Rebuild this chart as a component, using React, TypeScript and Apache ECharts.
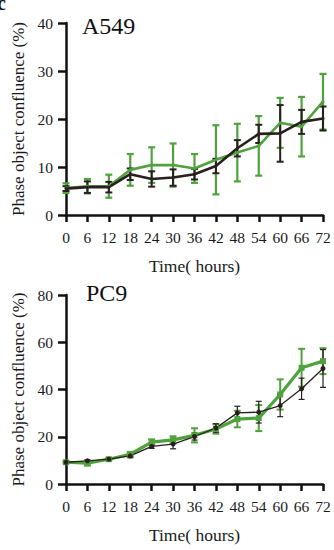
import React, { useEffect, useRef } from "react";
import * as echarts from "echarts";

const hours = [0, 6, 12, 18, 24, 30, 36, 42, 48, 54, 60, 66, 72];
const xTicks = hours;

const a549Green = [5.6, 6.0, 6.0, 9.4, 10.4, 10.4, 9.7, 11.5, 13.0, 14.4, 19.2, 18.4, 23.6];
const a549GreenErr = [1.0, 1.5, 2.4, 3.3, 3.7, 4.5, 3.0, 7.2, 6.0, 6.2, 5.2, 6.2, 5.8];
const a549Black = [5.5, 5.8, 5.8, 8.5, 7.5, 7.8, 8.5, 10.2, 13.9, 16.9, 17.0, 19.4, 20.1];
const a549BlackErr = [0.5, 1.2, 1.1, 1.2, 1.6, 1.7, 1.1, 1.5, 1.7, 1.9, 5.9, 2.5, 2.5];

const pc9Green = [9.2, 8.8, 10.5, 12.6, 17.7, 18.7, 20.6, 23.3, 27.5, 27.9, 37.9, 49.2, 52.0];
const pc9GreenErr = [0.5, 1.0, 0.5, 1.0, 1.2, 1.5, 3.0, 2.0, 3.5, 5.5, 6.4, 8.0, 5.5];
const pc9Black = [9.2, 9.8, 10.5, 11.9, 15.9, 16.9, 20.1, 23.7, 30.1, 30.4, 33.2, 40.3, 48.9];
const pc9BlackErr = [0.3, 0.5, 0.4, 0.8, 0.8, 2.0, 1.5, 1.8, 2.8, 4.6, 4.7, 4.5, 8.0];

const GREEN = "#4fa23e";
const BLACK = "#2a1f1f";
const FONT = "'Liberation Serif', serif";

function errSeries(idx: number, vals: number[], errs: number[], color: string, width: number, cap: number) {
  return {
    type: "custom",
    xAxisIndex: idx,
    yAxisIndex: idx,
    silent: true,
    data: hours.map((h, i) => [h, vals[i], errs[i]]),
    encode: { x: 0, y: [1] },
    renderItem: (params: any, api: any) => {
      const x = api.value(0);
      const y = api.value(1);
      const e = api.value(2);
      const top = api.coord([x, y + e]);
      const bot = api.coord([x, y - e]);
      const style = { stroke: color, lineWidth: width };
      return {
        type: "group",
        children: [
          { type: "line", shape: { x1: top[0], y1: top[1], x2: bot[0], y2: bot[1] }, style },
          { type: "line", shape: { x1: top[0] - cap, y1: top[1], x2: top[0] + cap, y2: top[1] }, style },
          { type: "line", shape: { x1: bot[0] - cap, y1: bot[1], x2: bot[0] + cap, y2: bot[1] }, style },
        ],
      };
    },
  };
}

function lineSeries(idx: number, vals: number[], color: string, width: number, symbol: string, size: number) {
  return {
    type: "line",
    xAxisIndex: idx,
    yAxisIndex: idx,
    data: hours.map((h, i) => [h, vals[i]]),
    symbol,
    symbolSize: size,
    showSymbol: true,
    itemStyle: { color },
    lineStyle: { color, width },
  };
}

function xAxis(idx: number) {
  return {
    type: "value",
    gridIndex: idx,
    min: 0,
    max: 72,
    interval: 6,
    name: "Time( hours)",
    nameLocation: "middle",
    nameGap: 42,
    nameTextStyle: { fontFamily: FONT, fontSize: 17.5, color: "#1a1a1a" },
    axisLine: { show: true, onZero: false, lineStyle: { color: "#111", width: 2.5 } },
    axisTick: { show: true, length: 7, lineStyle: { color: "#111", width: 2.5 } },
    axisLabel: {
      fontFamily: FONT,
      fontSize: 15.5,
      color: "#1a1a1a",
      margin: 14,
      formatter: (v: number) => (xTicks.includes(v) ? String(v) : ""),
    },
    splitLine: { show: false },
  };
}

function yAxis(idx: number, max: number, interval: number) {
  return {
    type: "value",
    gridIndex: idx,
    min: 0,
    max,
    interval,
    name: "Phase object confluence (%)",
    nameLocation: "middle",
    nameGap: 38,
    nameTextStyle: { fontFamily: FONT, fontSize: 17, color: "#1a1a1a" },
    axisLine: { show: true, lineStyle: { color: "#111", width: 2.5 } },
    axisTick: { show: true, length: 8, lineStyle: { color: "#111", width: 2.5 } },
    axisLabel: { fontFamily: FONT, fontSize: 15.5, color: "#1a1a1a", margin: 13 },
    splitLine: { show: false },
  };
}

export default function App() {
  const ref = useRef<HTMLDivElement>(null);
  useEffect(() => {
    const chart = echarts.init(ref.current!, undefined, { renderer: "svg" });
    chart.setOption({
      animation: false,
      backgroundColor: "#ffffff",
      textStyle: { fontFamily: FONT },
      grid: [
        { left: 66, right: 11, top: 23, bottom: 335 },
        { left: 66, right: 11, top: 295, bottom: 66 },
      ],
      title: [
        { text: "A549", left: 77, top: 9, textStyle: { fontFamily: FONT, fontSize: 24, fontWeight: "normal", color: "#111" } },
        { text: "PC9", left: 81, top: 276, textStyle: { fontFamily: FONT, fontSize: 24, fontWeight: "normal", color: "#111" } },
      ],
      graphic: [
        { type: "text", left: -3, top: -7, style: { text: "c", font: "bold 20px " + FONT, fill: "#111" } },
      ],
      xAxis: [xAxis(0), xAxis(1)],
      yAxis: [yAxis(0, 40, 10), yAxis(1, 80, 20)],
      series: [
        errSeries(0, a549Green, a549GreenErr, GREEN, 2.2, 3.5),
        lineSeries(0, a549Green, GREEN, 2.6, "circle", 3),
        errSeries(0, a549Black, a549BlackErr, BLACK, 2.0, 3.5),
        lineSeries(0, a549Black, BLACK, 2.6, "circle", 3),
        errSeries(1, pc9Green, pc9GreenErr, GREEN, 2.0, 3.5),
        lineSeries(1, pc9Green, GREEN, 3.2, "rect", 6),
        errSeries(1, pc9Black, pc9BlackErr, BLACK, 1.2, 3),
        lineSeries(1, pc9Black, BLACK, 1.3, "circle", 5),
      ],
    });
    return () => chart.dispose();
  }, []);
  return (
    <div
      ref={ref}
      style={{ position: "fixed", left: 0, top: 0, width: 334, height: 550, background: "#fff" }}
    />
  );
}
